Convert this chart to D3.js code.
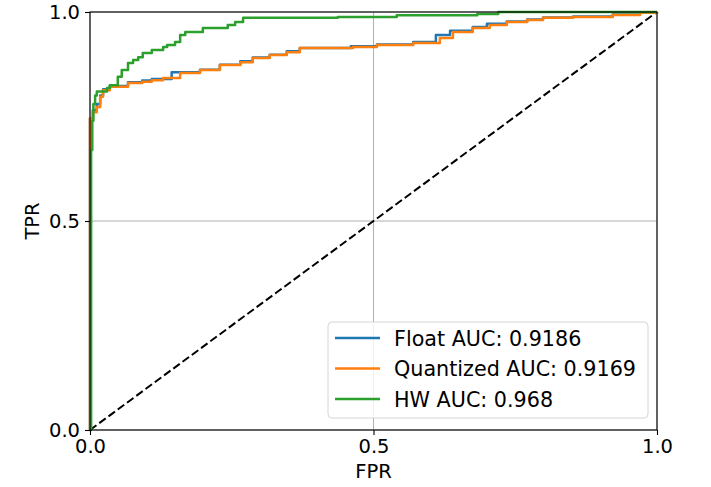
<!DOCTYPE html>
<html>
<head>
<meta charset="utf-8">
<script src="https://cdn.jsdelivr.net/npm/d3@7"></script>
<style>
body { margin: 0; background: #fff; }
text { font-family: "DejaVu Sans", sans-serif; fill: #000; }
</style>
</head>
<body>
<div id="viz"></div>
<script>

// ROC corner points, [fpr, tpr]
var floatRoc = [[0,0],[0,0.746],[0.005,0.765],[0.012,0.78],[0.018,0.80],[0.023,0.815],[0.035,0.823],
	[0.067,0.832],[0.092,0.836],[0.109,0.84],[0.144,0.856],[0.194,0.862],[0.229,0.874],[0.265,0.882],
	[0.287,0.891],[0.317,0.898],[0.347,0.906],[0.370,0.914],[0.46,0.918],[0.506,0.922],[0.570,0.928],
	[0.610,0.945],[0.635,0.955],[0.675,0.964],[0.700,0.972],[0.735,0.977],[0.771,0.982],[0.799,0.987],
	[0.852,0.989],[0.922,0.994],[0.97,0.998],[1,1]];

var quantRoc = [[0,0],[0,0.746],[0.005,0.76],[0.012,0.773],[0.018,0.797],[0.023,0.813],[0.035,0.821],
	[0.067,0.830],[0.092,0.833],[0.109,0.837],[0.129,0.842],[0.159,0.854],[0.194,0.861],[0.229,0.873],
	[0.265,0.880],[0.287,0.890],[0.317,0.897],[0.347,0.904],[0.370,0.914],[0.464,0.916],[0.506,0.921],
	[0.570,0.926],[0.617,0.938],[0.640,0.952],[0.675,0.962],[0.705,0.969],[0.735,0.976],[0.771,0.981],
	[0.799,0.986],[0.852,0.988],[0.922,0.993],[0.970,0.998],[1,1]];

var hwRoc = [[0,0],[0.002,0],[0.002,0.34],[0.002,0.67],[0.004,0.74],[0.006,0.78],[0.009,0.80],
	[0.012,0.81],[0.030,0.818],[0.035,0.825],[0.049,0.845],[0.056,0.861],[0.067,0.878],[0.076,0.885],
	[0.085,0.892],[0.093,0.902],[0.109,0.909],[0.129,0.916],[0.136,0.921],[0.150,0.928],[0.159,0.945],
	[0.168,0.952],[0.199,0.962],[0.243,0.969],[0.256,0.976],[0.270,0.986],[0.437,0.988],[0.541,0.992],
	[0.683,0.995],[0.720,1],[1,1]];

var seriesNames = ["Float AUC: 0.9186", "Quantized AUC: 0.9169", "HW AUC: 0.968"];
var seriesColors = ["#1f77b4", "#ff7f0e", "#2ca02c"];
var tickValues = [0, 0.5, 1];

var width = 711,
	height = 487;

var margin = { left: 90, right: 54, top: 12, bottom: 57 };

var svg = d3.select("#viz")
	.append("svg")
	.attr("width", width)
	.attr("height", height);

var x = d3.scaleLinear()
	.domain([0, 1])
	.range([margin.left, width - margin.right]);

var y = d3.scaleLinear()
	.domain([0, 1])
	.range([height - margin.bottom, margin.top]);

var fmt = d3.format(".1f");

//Grid lines
svg.append("g")
	.selectAll("line.gx")
	.data(tickValues)
	.enter()
	.append("line")
	.attr("x1", function(d) { return x(d); })
	.attr("x2", function(d) { return x(d); })
	.attr("y1", y(0))
	.attr("y2", y(1))
	.attr("stroke", "#b0b0b0")
	.attr("stroke-width", 1);

svg.append("g")
	.selectAll("line.gy")
	.data(tickValues)
	.enter()
	.append("line")
	.attr("y1", function(d) { return y(d); })
	.attr("y2", function(d) { return y(d); })
	.attr("x1", x(0))
	.attr("x2", x(1))
	.attr("stroke", "#b0b0b0")
	.attr("stroke-width", 1);

//Chance diagonal
svg.append("line")
	.attr("x1", x(0))
	.attr("y1", y(0))
	.attr("x2", x(1))
	.attr("y2", y(1))
	.attr("stroke", "#000")
	.attr("stroke-width", 2)
	.attr("stroke-dasharray", "8,3.5");

//ROC curves
var line = d3.line()
	.x(function(d) { return x(d[0]); })
	.y(function(d) { return y(d[1]); })
	.curve(d3.curveStepAfter);

var allRoc = [floatRoc, quantRoc, hwRoc];

svg.append("g")
	.selectAll("path")
	.data(allRoc)
	.enter()
	.append("path")
	.attr("d", function(d) { return line(d); })
	.attr("fill", "none")
	.attr("stroke", function(d, i) { return seriesColors[i]; })
	.attr("stroke-width", 2.5)
	.attr("stroke-linejoin", "round");

//Axes
var xAxis = svg.append("g")
	.attr("transform", "translate(0," + y(0) + ")")
	.call(d3.axisBottom(x).tickValues(tickValues).tickFormat(fmt).tickSize(5).tickPadding(4));

var yAxis = svg.append("g")
	.attr("transform", "translate(" + x(0) + ",0)")
	.call(d3.axisLeft(y).tickValues(tickValues).tickFormat(fmt).tickSize(5).tickPadding(5));

[xAxis, yAxis].forEach(function(a) {
	a.select(".domain").remove();
	a.selectAll("line").attr("stroke", "#000").attr("stroke-width", 1.1);
	a.selectAll("text")
	.style("font-family", "DejaVu Sans, sans-serif")
	.style("font-size", "19.5px")
	.attr("fill", "#000");
});

//Frame
svg.append("rect")
	.attr("x", x(0))
	.attr("y", y(1))
	.attr("width", x(1) - x(0))
	.attr("height", y(0) - y(1))
	.attr("fill", "none")
	.attr("stroke", "#000")
	.attr("stroke-width", 1.1);

//Axis labels
svg.append("text")
	.attr("x", x(0.5))
	.attr("y", 478)
	.attr("text-anchor", "middle")
	.style("font-size", "19.5px")
	.text("FPR");

svg.append("text")
	.attr("transform", "translate(39," + y(0.5) + ") rotate(-90)")
	.attr("text-anchor", "middle")
	.style("font-size", "19.5px")
	.text("TPR");

//Legend
var legend = svg.append("g")
	.attr("transform", "translate(328,322)");

legend.append("rect")
	.attr("width", 320)
	.attr("height", 96)
	.attr("rx", 4)
	.attr("fill", "rgba(255,255,255,0.8)")
	.attr("stroke", "#d6d6d6")
	.attr("stroke-width", 1);

var items = legend.selectAll("g.item")
	.data(seriesNames)
	.enter()
	.append("g")
	.attr("class", "item")
	.attr("transform", function(d, i) { return "translate(0," + (16 + i * 30.5) + ")"; });

items.append("line")
	.attr("x1", 7)
	.attr("x2", 52)
	.attr("stroke", function(d, i) { return seriesColors[i]; })
	.attr("stroke-width", 2.5);

items.append("text")
	.attr("x", 66)
	.attr("y", 7.5)
	.style("font-size", "20.7px")
	.text(function(d) { return d; });

</script>
</body>
</html>
